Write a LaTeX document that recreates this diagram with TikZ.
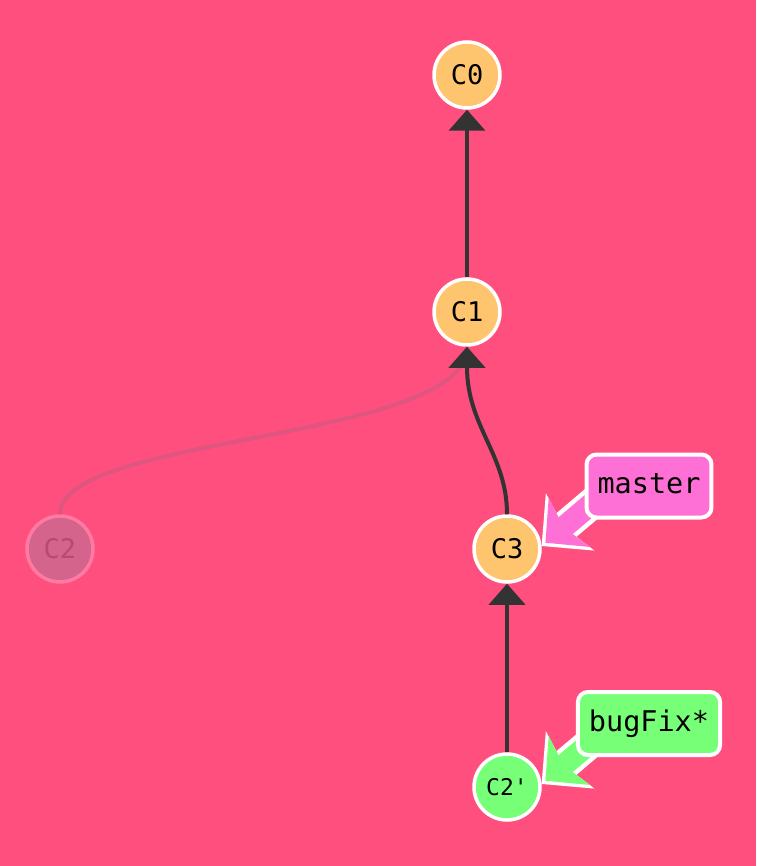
\documentclass[tikz,border=0pt]{standalone}
\usepackage{fontspec}
\setmonofont{DejaVu Sans Mono}
\usetikzlibrary{arrows.meta}
\definecolor{bgpink}{RGB}{255,79,126}
\definecolor{commitfill}{RGB}{255,196,110}
\definecolor{masterfill}{RGB}{255,112,214}
\definecolor{bugfill}{RGB}{120,255,120}
\definecolor{edgegrey}{RGB}{51,51,51}
\definecolor{ghostfill}{RGB}{212,100,140}
\definecolor{ghostdraw}{RGB}{255,122,162}
\definecolor{ghosttext}{RGB}{186,72,116}
\definecolor{ghostedge}{RGB}{222,86,128}
\tikzset{
  commit/.style={circle, draw=white, line width=3.5pt, fill=commitfill,
    minimum size=66pt, inner sep=0pt, font=\ttfamily\fontsize{27}{30}\selectfont},
  ghost/.style={commit, draw=ghostdraw, fill=ghostfill, text=ghosttext},
  branch/.style={rectangle, rounded corners=10pt, draw=white, line width=4pt,
    minimum height=63pt, inner xsep=11pt, text height=15pt, text depth=0pt,
    font=\ttfamily\fontsize{28.5}{32}\selectfont},
  parent/.style={draw=edgegrey, line width=4pt, -{Triangle[length=21pt,width=36pt]}},
  ghostline/.style={draw=ghostedge, line width=4pt},
  pointerout/.style={draw=white, line width=31pt, -{Stealth[length=37pt,width=74pt,inset=8pt]}},
  pointerin/.style={line width=22pt, shorten >=5pt, -{Stealth[length=31pt,width=63pt,inset=7pt]}}
}
\begin{document}
\begin{tikzpicture}[x=1pt,y=-1pt]
  \fill[bgpink] (0,0) rectangle (756,866);
  \useasboundingbox (0,0) rectangle (756,866);
  \node[commit] (C0) at (467,75) {C0};
  \node[commit] (C1) at (467,312) {C1};
  \node[ghost] (C2) at (60,549) {C2};
  \node[commit] (C3) at (507,549) {C3};
  \node[commit, fill=bugfill, font=\ttfamily\fontsize{23}{26}\selectfont] (C2p) at (507,787) {C2'};
  \begin{scope}
    \draw[parent] (C1) -- (C0);
    \draw[ghostline] (C2.north) .. controls +(0,-80) and +(0,95) .. (C1.south);
    \draw[parent] (C3.north) .. controls +(0,-60) and +(0,80) .. (C1.south);
    \draw[parent] (C2p) -- (C3);
  \end{scope}
  \coordinate (mastertail) at (622,478);
  \coordinate (bugFixtail) at (622,716);
  \draw[pointerout] (mastertail) -- (C3.5);
  \draw[pointerin, masterfill] (mastertail) -- (C3.5);
  \draw[pointerout] (bugFixtail) -- (C2p.5);
  \draw[pointerin, bugfill] (bugFixtail) -- (C2p.5);
  \node[branch, fill=masterfill] (master) at (649,486) {master};
  \node[branch, fill=bugfill] (bugFix) at (649,723.5) {bugFix*};
\end{tikzpicture}
\end{document}
